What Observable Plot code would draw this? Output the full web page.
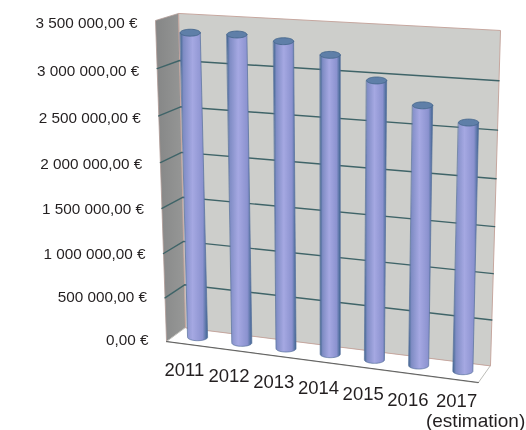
<!DOCTYPE html>
<html><head><meta charset="utf-8">
<style>html,body{margin:0;padding:0;background:#fff}svg{display:block;filter:blur(0.4px)}</style>
<script src="https://cdn.jsdelivr.net/npm/d3@7"></script>
<script src="https://cdn.jsdelivr.net/npm/@observablehq/plot@0.6"></script>
</head><body><script>
const years = ["2011","2012","2013","2014","2015","2016","2017"];
const amounts = [3350000,3360000,3320000,3210000,2980000,2760000,2620000];
const yTicks = [0,500000,1000000,1500000,2000000,2500000,3000000,3500000];
const note = "(estimation)";
const yMax = 3500000;

const euro = d3.formatLocale({decimal:",",thousands:" ",grouping:[3],currency:["","\u00a0€"]}).format("$,.2f");

// Box corners in scale units: [x fraction, euros], front(f)/back(b), left(l)/right(r), bottom(0)/top(1)
const C = {
  fl0:[.032,0],      fr0:[.936,-453000],
  bl0:[.087,155000], br0:[.971,-265000],
  fl1:[0,3544000],   fr1:[.959,3323000],
  bl1:[.067,3622000],br1:[1,3434000]
};
const mix = (a,b,t)=>[a[0]+(b[0]-a[0])*t,a[1]+(b[1]-a[1])*t];
const persp = v=>v-.057*v*(1-v);
// s along categories, v height 0..1, d depth 0 front..1 back
function P(s,v,d){
  const w=persp(v);
  const f0=mix(C.fl0,C.fr0,s),f1=mix(C.fl1,C.fr1,s),b0=mix(C.bl0,C.br0,s),b1=mix(C.bl1,C.br1,s);
  return mix(mix(f0,f1,w),mix(b0,b1,w),d);
}
const pt = (p,extra)=>({x:p[0],y:p[1],...extra});
const poly = (...corners)=>corners.map(c=>pt(c));

const rx=.029, ry=38000;
const sOf = i=>.07+i*.86/6;
const depth=.5;

const leftWall = poly(P(0,0,0),P(0,1,0),P(0,1,1),P(0,0,1));
const backWall = poly(P(0,0,1),P(0,1,1),P(1,1,1),P(1,0,1));
const floor = poly(P(0,0,0),P(0,0,1),P(1,0,1),P(1,0,0));
const frontEdge = poly(P(0,0,0),P(1,0,0));

const grid = yTicks.slice(1,-1).flatMap(t=>{
  const v=t/yMax;
  return [P(0,v,0),P(0,v,1),P(1,v,1)].map(p=>pt(p,{z:t}));
});

const ang = d3.range(0,1.0001,1/24).map(t=>t*Math.PI);
const bodies = years.flatMap((yr,i)=>{
  const s=sOf(i), top=P(s,amounts[i]/yMax,depth), bot=P(s,0,depth);
  return [
    pt([top[0]-rx,top[1]],{z:yr}),pt([top[0]+rx,top[1]],{z:yr}),
    ...ang.map(a=>pt([bot[0]+rx*Math.cos(a),bot[1]-ry*Math.sin(a)],{z:yr}))
  ];
});
const caps = years.flatMap((yr,i)=>{
  const top=P(sOf(i),amounts[i]/yMax,depth);
  return d3.range(0,48).map(k=>{
    const a=k/48*2*Math.PI;
    return pt([top[0]+rx*Math.cos(a),top[1]+ry*Math.sin(a)],{z:yr});
  });
});
const tickLabels = yTicks.map(t=>({
  x:P(0,t/yMax,0)[0],
  y:persp(t/yMax)*yMax,
  label:euro(t)
}));
const yearLabels = years.map((yr,i)=>pt(P(sOf(i),0,0),{label:yr}));
const lastLabel = yearLabels[yearLabels.length-1];

const defs = ()=>{
  const d=d3.create("svg:defs");
  d.html(`<linearGradient id="cyl" x1="0" x2="1" y1="0" y2="0">
    <stop offset="0" stop-color="#41668f"/><stop offset=".12" stop-color="#7f8cc4"/>
    <stop offset=".45" stop-color="#a5a8e2"/><stop offset=".82" stop-color="#8b92cf"/>
    <stop offset="1" stop-color="#3f6590"/></linearGradient>
    <linearGradient id="wallL" x1="0" x2="1" y1="0" y2="0">
    <stop offset="0" stop-color="#858686"/><stop offset="1" stop-color="#979897"/></linearGradient>`);
  return d.node();
};

const chart = Plot.plot({
  width:526,height:430,marginLeft:0,marginRight:0,marginTop:0,marginBottom:0,
  style:{background:"#fff",fontFamily:"'Liberation Sans',Arial,sans-serif",color:"#231f20"},
  x:{domain:[0,1],range:[155,500],axis:null},
  y:{domain:[0,yMax],range:[341,24],axis:null},
  marks:[
    defs,
    Plot.line(leftWall,{x:"x",y:"y",curve:"linear-closed",fill:"url(#wallL)",stroke:"#b09a95",strokeWidth:.8}),
    Plot.line(floor,{x:"x",y:"y",curve:"linear-closed",fill:"#fff",stroke:"#bdbdb8",strokeWidth:1}),
    Plot.line(backWall,{x:"x",y:"y",curve:"linear-closed",fill:"#cdcecb",stroke:"#c6a79f",strokeWidth:1}),
    Plot.line(frontEdge,{x:"x",y:"y",stroke:"#5f5f5f",strokeWidth:1.1}),
    Plot.line(grid,{x:"x",y:"y",z:"z",stroke:"#3f6468",strokeWidth:1.4}),
    Plot.line(bodies,{x:"x",y:"y",z:"z",curve:"linear-closed",fill:"url(#cyl)",stroke:"#56709c",strokeWidth:.7}),
    Plot.line(caps,{x:"x",y:"y",z:"z",curve:"linear-closed",fill:"#5f7fa8",stroke:"#46688c",strokeWidth:.9}),
    Plot.text(tickLabels,{x:"x",y:"y",text:"label",dx:-18,dy:-1,textAnchor:"end",fontSize:15.3,fill:"#231f20"}),
    Plot.text(yearLabels.slice(0,-1),{x:"x",y:"y",text:"label",dx:-4,dy:26,fontSize:18.5,fill:"#231f20"}),
    Plot.text([lastLabel],{x:"x",y:"y",text:"label",dy:21,fontSize:18.5,fill:"#231f20"}),
    Plot.text([lastLabel],{x:"x",y:"y",text:()=>note,dx:19,dy:41,fontSize:19,fill:"#231f20"})
  ]
});
document.body.appendChild(chart);
</script></body></html>
